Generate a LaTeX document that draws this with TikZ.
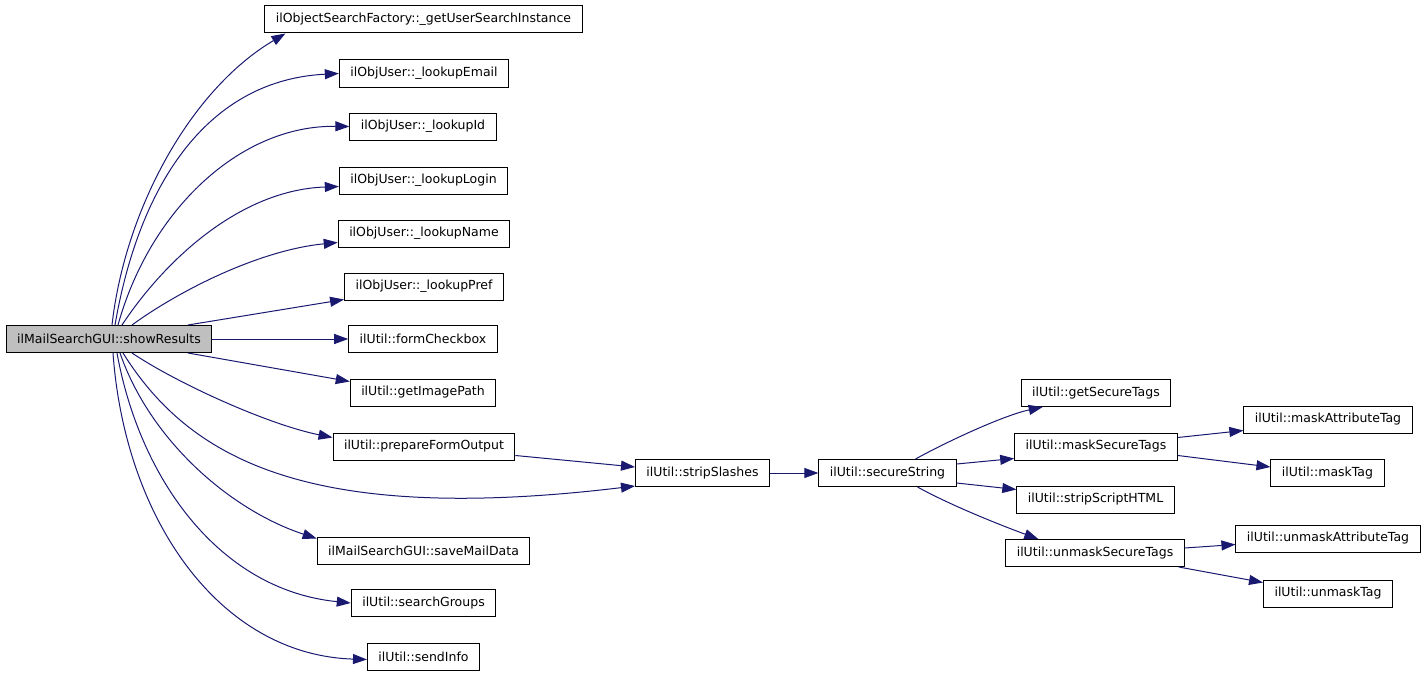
\documentclass[tikz,border=0pt]{standalone}
\usepackage{fontspec}
\setmainfont{DejaVu Sans}
\usetikzlibrary{arrows.meta}
\definecolor{calledge}{HTML}{191970}
\definecolor{rootfill}{HTML}{BFBFBF}

\begin{document}
\begin{tikzpicture}[x=1pt,y=-1pt,
  fn/.style={draw=black,line width=1pt,minimum height=27pt,inner xsep=11pt,inner ysep=0pt,font=\fontsize{12.5}{15}\selectfont},
  call/.style={draw=calledge,line width=1pt,-{Triangle[length=14pt,width=10pt]}}]
\useasboundingbox (0,0) rectangle (1427,677);
\node[fn,fill=rootfill] (sr) at (109,339) {ilMailSearchGUI::showResults};
\node[fn] (gus) at (423.5,19.5) {ilObjectSearchFactory::\_getUserSearchInstance};
\node[fn] (email) at (424,73.5) {ilObjUser::\_lookupEmail};
\node[fn] (lid) at (423,126.5) {ilObjUser::\_lookupId};
\node[fn] (login) at (423.5,180.5) {ilObjUser::\_lookupLogin};
\node[fn] (name) at (424,233.5) {ilObjUser::\_lookupName};
\node[fn] (pref) at (424,286.5) {ilObjUser::\_lookupPref};
\node[fn] (fcb) at (423,339) {ilUtil::formCheckbox};
\node[fn] (gip) at (423,392.5) {ilUtil::getImagePath};
\node[fn] (pfo) at (424,446.5) {ilUtil::prepareFormOutput};
\node[fn] (smd) at (423.5,550.5) {ilMailSearchGUI::saveMailData};
\node[fn] (sg) at (423.5,603) {ilUtil::searchGroups};
\node[fn] (si) at (423.5,656.5) {ilUtil::sendInfo};
\node[fn] (ss) at (702.5,473) {ilUtil::stripSlashes};
\node[fn] (sec) at (887.5,473) {ilUtil::secureString};
\node[fn] (gst) at (1096,393) {ilUtil::getSecureTags};
\node[fn] (msk) at (1096,446.5) {ilUtil::maskSecureTags};
\node[fn] (ssh) at (1095.5,499.5) {ilUtil::stripScriptHTML};
\node[fn] (ust) at (1095,553) {ilUtil::unmaskSecureTags};
\node[fn] (mat) at (1328,419.5) {ilUtil::maskAttributeTag};
\node[fn] (mt) at (1327.5,473) {ilUtil::maskTag};
\node[fn] (uat) at (1328,538.5) {ilUtil::unmaskAttributeTag};
\node[fn] (ut) at (1328,593.5) {ilUtil::unmaskTag};
\draw[call] ([xshift=3pt]sr.north) .. controls (125,210) and (190,90) .. ([xshift=21pt]gus.south west);
\draw[call] ([xshift=6pt]sr.north) .. controls (140,180) and (210,80) .. (email.west);
\draw[call] ([xshift=9pt]sr.north) .. controls (150,210) and (240,125) .. (lid.west);
\draw[call] ([xshift=13pt]sr.north) .. controls (165,260) and (240,190) .. ([yshift=-6pt]login.west);
\draw[call] ([xshift=23pt]sr.north) .. controls (180,290) and (260,250) .. ([yshift=-9pt]name.west);
\draw[call] ([xshift=79pt]sr.north) -- ([yshift=1pt]pref.south west);
\draw[call] (sr.east) -- (fcb.west);
\draw[call] ([xshift=79pt]sr.south) -- ([yshift=-3pt]gip.north west);
\draw[call] ([xshift=23pt]sr.south) .. controls (180,385) and (270,425) .. ([yshift=-5pt]pfo.north west);
\draw[call] ([xshift=14pt]sr.south) .. controls (190,460) and (310,525) .. ([yshift=1pt]ss.south west);
\draw[call] ([xshift=11pt]sr.south) .. controls (150,440) and (230,510) .. ([yshift=-2pt]smd.north west);
\draw[call] ([xshift=8pt]sr.south) .. controls (140,480) and (220,590) .. (sg.west);
\draw[call] ([xshift=4pt]sr.south) .. controls (125,520) and (220,655) .. ([yshift=-3pt]si.west);
\draw[call] ([yshift=-9pt]pfo.east) -- ([yshift=-8pt]ss.north west);
\draw[call] (ss.east) -- (sec.west);
\draw[call] ([xshift=28pt]sec.north) .. controls (950,440) and (1005,415) .. ([xshift=22pt]gst.south west);
\draw[call] ([yshift=9pt]sec.east) -- ([yshift=2pt]msk.south west);
\draw[call] ([yshift=-10pt]sec.east) -- ([yshift=-4pt]ssh.north west);
\draw[call] ([xshift=30pt]sec.south) .. controls (950,505) and (1000,525) .. ([xshift=33pt]ust.north west);
\draw[call] ([yshift=9pt]msk.east) -- ([yshift=3pt]mat.south west);
\draw[call] ([yshift=-9pt]msk.east) -- ([yshift=-8pt]mt.north west);
\draw[call] ([yshift=5pt]ust.east) -- ([yshift=-6pt]uat.west);
\draw[call] ([xshift=-6pt]ust.south east) -- ([yshift=-3pt]ut.north west);
\end{tikzpicture}
\end{document}
